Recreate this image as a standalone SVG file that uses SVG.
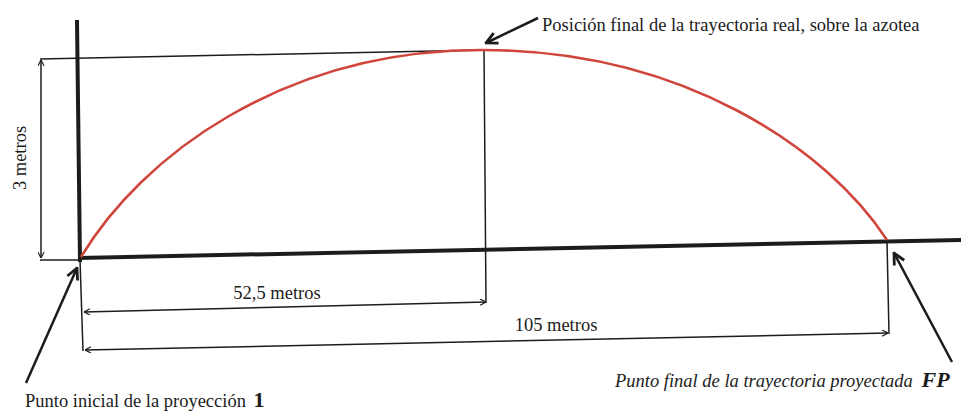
<svg xmlns="http://www.w3.org/2000/svg" width="961" height="413" viewBox="0 0 961 413">
<style>
.thick{stroke:#1c1c1c;stroke-width:4;fill:none;stroke-linecap:butt}
.thin{stroke:#1c1c1c;stroke-width:1.5;fill:none}
.dim{stroke:#1c1c1c;stroke-width:1.5;fill:none;marker-start:url(#dh);marker-end:url(#dh)}
.ptr{stroke:#1c1c1c;stroke-width:2.5;fill:none;marker-end:url(#ph)}
.arc{stroke:#d0463c;stroke-width:2.6;fill:none}
.lbl{font-family:"Liberation Serif","DejaVu Serif","Times New Roman",serif;font-size:18.5px;fill:#1c1c1c}
</style>
<defs>
<marker id="dh" viewBox="0 0 10 10" refX="9.5" refY="5" markerWidth="7" markerHeight="7" markerUnits="userSpaceOnUse" orient="auto-start-reverse">
<path d="M1,0.5 L9.5,5 L1,9.5" fill="none" stroke="#1c1c1c" stroke-width="1.6"/>
</marker>
<marker id="ph" viewBox="0 0 10 10" refX="9" refY="5" markerWidth="14" markerHeight="14" markerUnits="userSpaceOnUse" orient="auto">
<path d="M1,1 L9,5 L1,9" fill="none" stroke="#1c1c1c" stroke-width="2"/>
</marker>
</defs>
<rect width="961" height="413" fill="#ffffff"/>
<g id="axes">
<line class="thick" x1="77" y1="20" x2="80" y2="262"/>
<line class="thick" x1="78" y1="258" x2="961" y2="240"/>
<line class="thin" x1="40" y1="59" x2="484" y2="50"/>
<line class="thin" x1="40" y1="260" x2="80" y2="260"/>
<line class="thin" x1="80" y1="260" x2="83" y2="351"/>
<line class="thin" x1="484" y1="50" x2="486" y2="303"/>
<line class="thin" x1="887" y1="241" x2="889" y2="334"/>
</g>
<g id="trajectory">
<path class="arc" d="M81,257 C141,157 282,50 482,50 C682,50 827,148 887,240"/>
</g>
<g id="connectors">
<line class="dim" x1="41" y1="60" x2="41" y2="258"/>
<line class="dim" x1="84" y1="312" x2="486" y2="302"/>
<line class="dim" x1="85" y1="350" x2="888" y2="333"/>
<line class="ptr" x1="538" y1="18" x2="486" y2="43"/>
<line class="ptr" x1="26" y1="383" x2="77" y2="268"/>
<line class="ptr" x1="952" y1="362" x2="894" y2="253"/>
</g>
<g id="label-top">
<text class="lbl" font-family="Liberation Serif, serif" font-size="18" x="542" y="31">Posición final de la trayectoria real, sobre la azotea</text>
</g>
<g id="label-height">
<text class="lbl" font-family="Liberation Serif, serif" transform="translate(26,158) rotate(-90)" text-anchor="middle">3 metros</text>
</g>
<g id="label-half">
<text class="lbl" font-family="Liberation Serif, serif" x="277" y="299" text-anchor="middle">52,5 metros</text>
</g>
<g id="label-full">
<text class="lbl" font-family="Liberation Serif, serif" x="556" y="331" text-anchor="middle">105 metros</text>
</g>
<g id="label-start">
<text class="lbl" font-family="Liberation Serif, serif" x="25" y="407">Punto inicial de la proyección <tspan dx="3" font-weight="bold" font-size="22">1</tspan></text>
</g>
<g id="label-end">
<text class="lbl" font-family="Liberation Serif, serif" x="615" y="387" font-style="italic">Punto final de la trayectoria proyectada <tspan dx="4" font-weight="bold" font-size="22">FP</tspan></text>
</g>
</svg>
